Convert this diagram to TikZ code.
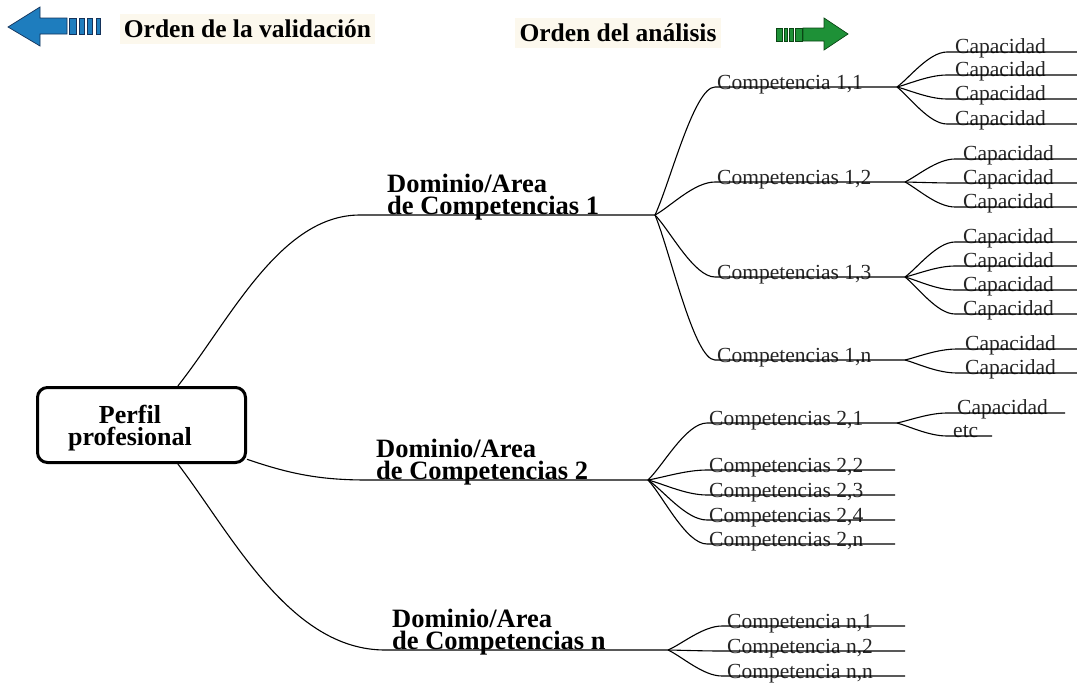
\documentclass[tikz,border=0pt]{standalone}
\usepackage{fontspec}
\setmainfont{Liberation Serif}
\definecolor{titlebg}{RGB}{252,248,237}
\definecolor{arrowblue}{RGB}{30,125,190}
\definecolor{arrowblueedge}{RGB}{20,50,90}
\definecolor{arrowgreen}{RGB}{30,145,55}
\definecolor{arrowgreenedge}{RGB}{10,70,20}
\tikzset{
  leaflabel/.style={anchor=base west,inner sep=0pt,text=black!85,font=\fontsize{21.5bp}{24bp}\selectfont},
  domainlabel/.style={anchor=base west,inner sep=0pt,align=left,font=\fontsize{26.5bp}{22bp}\selectfont\bfseries},
  titlebox/.style={fill=titlebg,inner sep=0pt,minimum height=30bp,font=\fontsize{25.5bp}{28bp}\selectfont\bfseries},
  branchline/.style={black,line width=1.1bp},
  bluearrow/.style={fill=arrowblue,draw=arrowblueedge,line width=0.7bp,line join=miter},
  greenarrow/.style={fill=arrowgreen,draw=arrowgreenedge,line width=0.7bp,line join=miter},
}
\begin{document}
\begin{tikzpicture}[>=latex,line join=bevel,yscale=-1]
\useasboundingbox (0bp,0bp) rectangle (1077bp,684bp);
%% titles
\node (title_validacion) at (247.5bp,29bp) [titlebox,minimum width=255bp] {Orden de la validación};
  \node (title_analisis) at (618bp,33bp) [titlebox,minimum width=206bp] {Orden del análisis};
  \filldraw [bluearrow] (8bp,27bp) -- (40bp,7bp) -- (40bp,18bp) -- (67bp,18bp) -- (67bp,34bp) -- (40bp,34bp) -- (40bp,46bp) -- cycle;
  \filldraw [bluearrow] (69bp,18bp) rectangle (76bp,34bp);
  \filldraw [bluearrow] (79bp,18bp) rectangle (84bp,34bp);
  \filldraw [bluearrow] (87bp,18bp) rectangle (92bp,34bp);
  \filldraw [bluearrow] (96bp,18bp) rectangle (100bp,34bp);
  \filldraw [greenarrow] (848bp,34bp) -- (824bp,18bp) -- (824bp,28bp) -- (803bp,28bp) -- (803bp,41bp) -- (824bp,41bp) -- (824bp,50bp) -- cycle;
  \filldraw [greenarrow] (776bp,28bp) rectangle (782bp,41bp);
  \filldraw [greenarrow] (784bp,28bp) rectangle (787bp,41bp);
  \filldraw [greenarrow] (789bp,28bp) rectangle (793bp,41bp);
  \filldraw [greenarrow] (795bp,28bp) rectangle (802bp,41bp);
%% root
\node (perfil) at (141.5bp,425bp) [draw,line width=3bp,rounded corners=10bp,minimum width=208bp,minimum height=75bp] {};
  \node (perfil_text) at (130bp,445bp) [anchor=base,inner sep=0pt,align=center,font=\fontsize{26bp}{22bp}\selectfont\bfseries] {Perfil\\profesional};
%% dominio 1
\coordinate (dom_1_in) at (360bp,215bp);
  \coordinate (dom_1_fork) at (655bp,215bp);
  \node (dom_1) at (387bp,214bp) [domainlabel] {Dominio/Area\\de Competencias 1};
  \draw [branchline] (perfil.47) ..controls (230bp,320bp) and (280bp,215bp) .. (dom_1_in) -- (dom_1_fork);
%
\coordinate (comp_11_in) at (715bp,87bp);
  \coordinate (comp_11_fork) at (897bp,87bp);
  \node (comp_11) at (717bp,89bp) [leaflabel] {Competencia 1,1};
  \draw [branchline] (dom_1_fork) ..controls (670bp,183bp) and (694bp,87bp) .. (comp_11_in) -- (comp_11_fork);
  \coordinate (comp_12_in) at (715bp,182bp);
  \coordinate (comp_12_fork) at (905bp,182bp);
  \node (comp_12) at (717bp,184bp) [leaflabel] {Competencias 1,2};
  \draw [branchline] (dom_1_fork) ..controls (670bp,207bp) and (694bp,182bp) .. (comp_12_in) -- (comp_12_fork);
  \coordinate (comp_13_in) at (715bp,277bp);
  \coordinate (comp_13_fork) at (905bp,277bp);
  \node (comp_13) at (717bp,279bp) [leaflabel] {Competencias 1,3};
  \draw [branchline] (dom_1_fork) ..controls (670bp,230.5bp) and (694bp,277bp) .. (comp_13_in) -- (comp_13_fork);
  \coordinate (comp_1n_in) at (715bp,360bp);
  \coordinate (comp_1n_fork) at (905bp,360bp);
  \node (comp_1n) at (717bp,362bp) [leaflabel] {Competencias 1,n};
  \draw [branchline] (dom_1_fork) ..controls (670bp,251bp) and (694bp,360bp) .. (comp_1n_in) -- (comp_1n_fork);
%
\coordinate (cap_11_a_in) at (947bp,52bp);
  \coordinate (cap_11_a_end) at (1077bp,52bp);
  \node (cap_11_a) at (955bp,53.5bp) [leaflabel] {Capacidad};
  \draw [branchline] (comp_11_fork) ..controls (909bp,78.25bp) and (929bp,52bp) .. (cap_11_a_in) -- (cap_11_a_end);
  \coordinate (cap_11_b_in) at (947bp,75bp);
  \coordinate (cap_11_b_end) at (1077bp,75bp);
  \node (cap_11_b) at (955bp,76.5bp) [leaflabel] {Capacidad};
  \draw [branchline] (comp_11_fork) ..controls (909bp,84bp) and (929bp,75bp) .. (cap_11_b_in) -- (cap_11_b_end);
  \coordinate (cap_11_c_in) at (947bp,99bp);
  \coordinate (cap_11_c_end) at (1077bp,99bp);
  \node (cap_11_c) at (955bp,100.5bp) [leaflabel] {Capacidad};
  \draw [branchline] (comp_11_fork) ..controls (909bp,90bp) and (929bp,99bp) .. (cap_11_c_in) -- (cap_11_c_end);
  \coordinate (cap_11_d_in) at (947bp,124bp);
  \coordinate (cap_11_d_end) at (1077bp,124bp);
  \node (cap_11_d) at (955bp,125.5bp) [leaflabel] {Capacidad};
  \draw [branchline] (comp_11_fork) ..controls (909bp,96.25bp) and (929bp,124bp) .. (cap_11_d_in) -- (cap_11_d_end);
%
\coordinate (cap_12_a_in) at (955bp,159bp);
  \coordinate (cap_12_a_end) at (1077bp,159bp);
  \node (cap_12_a) at (963bp,160.5bp) [leaflabel] {Capacidad};
  \draw [branchline] (comp_12_fork) ..controls (917bp,176.25bp) and (937bp,159bp) .. (cap_12_a_in) -- (cap_12_a_end);
  \coordinate (cap_12_b_in) at (955bp,183bp);
  \coordinate (cap_12_b_end) at (1077bp,183bp);
  \node (cap_12_b) at (963bp,184.5bp) [leaflabel] {Capacidad};
  \draw [branchline] (comp_12_fork) ..controls (917bp,182.25bp) and (937bp,183bp) .. (cap_12_b_in) -- (cap_12_b_end);
  \coordinate (cap_12_c_in) at (955bp,207bp);
  \coordinate (cap_12_c_end) at (1077bp,207bp);
  \node (cap_12_c) at (963bp,208.5bp) [leaflabel] {Capacidad};
  \draw [branchline] (comp_12_fork) ..controls (917bp,188.25bp) and (937bp,207bp) .. (cap_12_c_in) -- (cap_12_c_end);
%
\coordinate (cap_13_a_in) at (955bp,242bp);
  \coordinate (cap_13_a_end) at (1077bp,242bp);
  \node (cap_13_a) at (963bp,243.5bp) [leaflabel] {Capacidad};
  \draw [branchline] (comp_13_fork) ..controls (917bp,268.25bp) and (937bp,242bp) .. (cap_13_a_in) -- (cap_13_a_end);
  \coordinate (cap_13_b_in) at (955bp,266bp);
  \coordinate (cap_13_b_end) at (1077bp,266bp);
  \node (cap_13_b) at (963bp,267.5bp) [leaflabel] {Capacidad};
  \draw [branchline] (comp_13_fork) ..controls (917bp,274.25bp) and (937bp,266bp) .. (cap_13_b_in) -- (cap_13_b_end);
  \coordinate (cap_13_c_in) at (955bp,290bp);
  \coordinate (cap_13_c_end) at (1077bp,290bp);
  \node (cap_13_c) at (963bp,291.5bp) [leaflabel] {Capacidad};
  \draw [branchline] (comp_13_fork) ..controls (917bp,280.25bp) and (937bp,290bp) .. (cap_13_c_in) -- (cap_13_c_end);
  \coordinate (cap_13_d_in) at (955bp,314bp);
  \coordinate (cap_13_d_end) at (1077bp,314bp);
  \node (cap_13_d) at (963bp,315.5bp) [leaflabel] {Capacidad};
  \draw [branchline] (comp_13_fork) ..controls (917bp,286.25bp) and (937bp,314bp) .. (cap_13_d_in) -- (cap_13_d_end);
%
\coordinate (cap_1n_a_in) at (957bp,349bp);
  \coordinate (cap_1n_a_end) at (1077bp,349bp);
  \node (cap_1n_a) at (965bp,350.5bp) [leaflabel] {Capacidad};
  \draw [branchline] (comp_1n_fork) ..controls (917bp,357.25bp) and (937bp,349bp) .. (cap_1n_a_in) -- (cap_1n_a_end);
  \coordinate (cap_1n_b_in) at (957bp,373bp);
  \coordinate (cap_1n_b_end) at (1077bp,373bp);
  \node (cap_1n_b) at (965bp,374.5bp) [leaflabel] {Capacidad};
  \draw [branchline] (comp_1n_fork) ..controls (917bp,363.25bp) and (937bp,373bp) .. (cap_1n_b_in) -- (cap_1n_b_end);
%% dominio 2
\coordinate (dom_2_in) at (367bp,480bp);
  \coordinate (dom_2_fork) at (648bp,480bp);
  \node (dom_2) at (376bp,479bp) [domainlabel] {Dominio/Area\\de Competencias 2};
  \draw [branchline] (perfil.-18) ..controls (290bp,474bp) and (320bp,480bp) .. (dom_2_in) -- (dom_2_fork);
%
\coordinate (comp_21_in) at (707bp,423bp);
  \coordinate (comp_21_fork) at (897bp,423bp);
  \node (comp_21) at (709bp,425bp) [leaflabel] {Competencias 2,1};
  \draw [branchline] (dom_2_fork) ..controls (663bp,465.75bp) and (686bp,423bp) .. (comp_21_in) -- (comp_21_fork);
  \coordinate (comp_22_in) at (707bp,470bp);
  \coordinate (comp_22_end) at (895bp,470bp);
  \node (comp_22) at (709bp,472bp) [leaflabel] {Competencias 2,2};
  \draw [branchline] (dom_2_fork) ..controls (663bp,477.5bp) and (686bp,470bp) .. (comp_22_in) -- (comp_22_end);
  \coordinate (comp_23_in) at (707bp,495bp);
  \coordinate (comp_23_end) at (895bp,495bp);
  \node (comp_23) at (709bp,497bp) [leaflabel] {Competencias 2,3};
  \draw [branchline] (dom_2_fork) ..controls (663bp,483.75bp) and (686bp,495bp) .. (comp_23_in) -- (comp_23_end);
  \coordinate (comp_24_in) at (707bp,520bp);
  \coordinate (comp_24_end) at (895bp,520bp);
  \node (comp_24) at (709bp,522bp) [leaflabel] {Competencias 2,4};
  \draw [branchline] (dom_2_fork) ..controls (663bp,490bp) and (686bp,520bp) .. (comp_24_in) -- (comp_24_end);
  \coordinate (comp_2n_in) at (707bp,544bp);
  \coordinate (comp_2n_end) at (895bp,544bp);
  \node (comp_2n) at (709bp,546bp) [leaflabel] {Competencias 2,n};
  \draw [branchline] (dom_2_fork) ..controls (663bp,496bp) and (686bp,544bp) .. (comp_2n_in) -- (comp_2n_end);
%
\coordinate (cap_21_a_in) at (947bp,413bp);
  \coordinate (cap_21_a_end) at (1065bp,413bp);
  \node (cap_21_a) at (957bp,414.5bp) [leaflabel] {Capacidad};
  \draw [branchline] (comp_21_fork) ..controls (909bp,420.5bp) and (929bp,413bp) .. (cap_21_a_in) -- (cap_21_a_end);
  \coordinate (cap_21_b_in) at (947bp,436bp);
  \coordinate (cap_21_b_end) at (992bp,436bp);
  \node (cap_21_b) at (953bp,437.5bp) [leaflabel] {etc};
  \draw [branchline] (comp_21_fork) ..controls (909bp,426.25bp) and (929bp,436bp) .. (cap_21_b_in) -- (cap_21_b_end);
%% dominio n
\coordinate (dom_n_in) at (385bp,650bp);
  \coordinate (dom_n_fork) at (668bp,650bp);
  \node (dom_n) at (392bp,649bp) [domainlabel] {Dominio/Area\\de Competencias n};
  \draw [branchline] (perfil.-47) ..controls (232bp,535bp) and (290bp,650bp) .. (dom_n_in) -- (dom_n_fork);
%
\coordinate (comp_n1_in) at (722bp,626bp);
  \coordinate (comp_n1_end) at (905bp,626bp);
  \node (comp_n1) at (727bp,628bp) [leaflabel] {Competencia n,1};
  \draw [branchline] (dom_n_fork) ..controls (682bp,644bp) and (703bp,626bp) .. (comp_n1_in) -- (comp_n1_end);
  \coordinate (comp_n2_in) at (722bp,651bp);
  \coordinate (comp_n2_end) at (905bp,651bp);
  \node (comp_n2) at (727bp,653bp) [leaflabel] {Competencia n,2};
  \draw [branchline] (dom_n_fork) ..controls (682bp,650.25bp) and (703bp,651bp) .. (comp_n2_in) -- (comp_n2_end);
  \coordinate (comp_nn_in) at (722bp,676bp);
  \coordinate (comp_nn_end) at (905bp,676bp);
  \node (comp_nn) at (727bp,678bp) [leaflabel] {Competencia n,n};
  \draw [branchline] (dom_n_fork) ..controls (682bp,656.5bp) and (703bp,676bp) .. (comp_nn_in) -- (comp_nn_end);
%
\end{tikzpicture}
\end{document}
